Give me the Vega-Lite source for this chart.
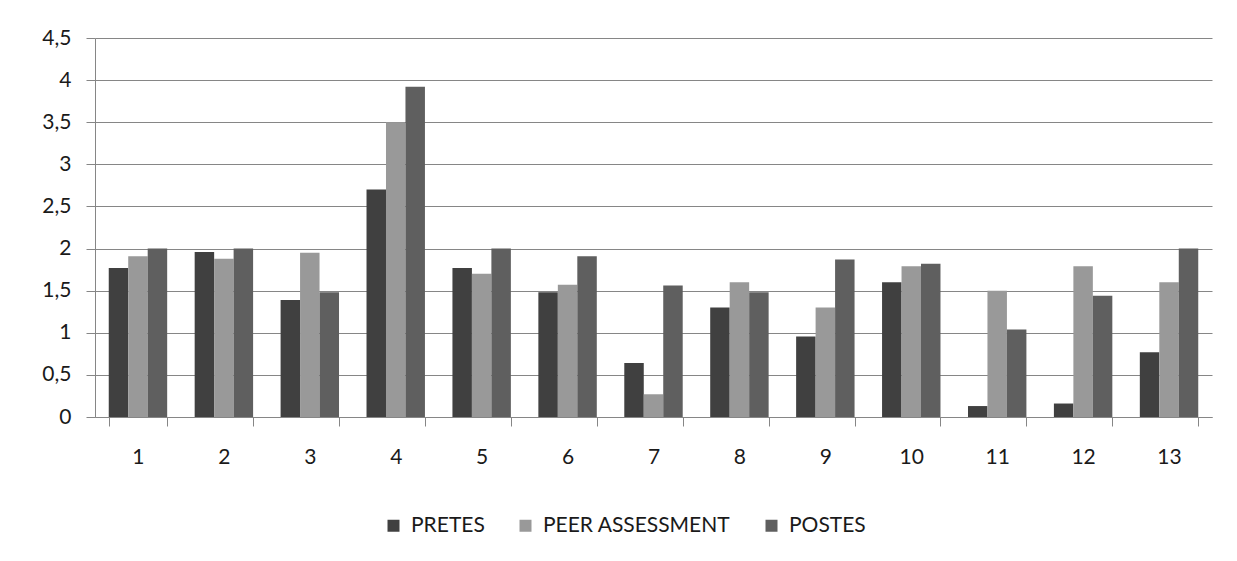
{
  "$schema": "https://vega.github.io/schema/vega-lite/v6.json",
  "autosize": {"type": "none"},
  "width": 1117,
  "height": 379,
  "padding": {"left": 95, "top": 38, "right": 25, "bottom": 144},
  "background": "white",
  "data": {"values": [
    {"item": 1, "series": "PRETES", "value": 1.77},
    {"item": 1, "series": "PEER ASSESSMENT", "value": 1.91},
    {"item": 1, "series": "POSTES", "value": 2.0},
    {"item": 2, "series": "PRETES", "value": 1.96},
    {"item": 2, "series": "PEER ASSESSMENT", "value": 1.88},
    {"item": 2, "series": "POSTES", "value": 2.0},
    {"item": 3, "series": "PRETES", "value": 1.39},
    {"item": 3, "series": "PEER ASSESSMENT", "value": 1.95},
    {"item": 3, "series": "POSTES", "value": 1.48},
    {"item": 4, "series": "PRETES", "value": 2.7},
    {"item": 4, "series": "PEER ASSESSMENT", "value": 3.5},
    {"item": 4, "series": "POSTES", "value": 3.92},
    {"item": 5, "series": "PRETES", "value": 1.77},
    {"item": 5, "series": "PEER ASSESSMENT", "value": 1.7},
    {"item": 5, "series": "POSTES", "value": 2.0},
    {"item": 6, "series": "PRETES", "value": 1.48},
    {"item": 6, "series": "PEER ASSESSMENT", "value": 1.57},
    {"item": 6, "series": "POSTES", "value": 1.91},
    {"item": 7, "series": "PRETES", "value": 0.64},
    {"item": 7, "series": "PEER ASSESSMENT", "value": 0.27},
    {"item": 7, "series": "POSTES", "value": 1.56},
    {"item": 8, "series": "PRETES", "value": 1.3},
    {"item": 8, "series": "PEER ASSESSMENT", "value": 1.6},
    {"item": 8, "series": "POSTES", "value": 1.48},
    {"item": 9, "series": "PRETES", "value": 0.955},
    {"item": 9, "series": "PEER ASSESSMENT", "value": 1.3},
    {"item": 9, "series": "POSTES", "value": 1.87},
    {"item": 10, "series": "PRETES", "value": 1.6},
    {"item": 10, "series": "PEER ASSESSMENT", "value": 1.79},
    {"item": 10, "series": "POSTES", "value": 1.82},
    {"item": 11, "series": "PRETES", "value": 0.13},
    {"item": 11, "series": "PEER ASSESSMENT", "value": 1.5},
    {"item": 11, "series": "POSTES", "value": 1.04},
    {"item": 12, "series": "PRETES", "value": 0.16},
    {"item": 12, "series": "PEER ASSESSMENT", "value": 1.79},
    {"item": 12, "series": "POSTES", "value": 1.44},
    {"item": 13, "series": "PRETES", "value": 0.77},
    {"item": 13, "series": "PEER ASSESSMENT", "value": 1.6},
    {"item": 13, "series": "POSTES", "value": 2.0}
  ]},
  "mark": {"type": "bar"},
  "encoding": {
    "x": {
      "field": "item", "type": "ordinal", "title": null,
      "scale": {"paddingInner": 0.32, "paddingOuter": 0.16},
      "axis": {
        "labelAngle": 0, "tickBand": "extent", "tickSize": 9, "tickColor": "#868686",
        "domainColor": "#868686", "labelPadding": 20, "labelFontSize": 21,
        "labelFont": "Lato", "labelColor": "#1a1a1a", "grid": false
      }
    },
    "xOffset": {"field": "series", "type": "nominal", "sort": ["PRETES", "PEER ASSESSMENT", "POSTES"]},
    "y": {
      "field": "value", "type": "quantitative", "title": null,
      "scale": {"domain": [0, 4.5], "nice": false},
      "axis": {
        "values": [0, 0.5, 1, 1.5, 2, 2.5, 3, 3.5, 4, 4.5],
        "labelExpr": "replace(datum.value + '', '.', ',')",
        "tickSize": 9, "tickColor": "#868686", "domain": true, "domainColor": "#868686",
        "gridColor": "#868686", "gridWidth": 1, "gridOpacity": 1,
        "labelPadding": 15, "labelFontSize": 21, "labelFont": "Lato", "labelColor": "#1a1a1a"
      }
    },
    "color": {
      "field": "series", "type": "nominal",
      "sort": ["PRETES", "PEER ASSESSMENT", "POSTES"],
      "scale": {"domain": ["PRETES", "PEER ASSESSMENT", "POSTES"], "range": ["#404040", "#999999", "#5f5f5f"]},
      "legend": {
        "title": null, "orient": "none", "direction": "horizontal",
        "legendX": 288, "legendY": 477,
        "symbolType": "square", "symbolSize": 144, "symbolStrokeWidth": 0,
        "labelFontSize": 21, "labelFont": "Lato", "labelColor": "#1a1a1a", "labelLimit": 400,
        "columnPadding": 30, "labelOffset": 7
      }
    }
  },
  "config": {"view": {"stroke": null}}
}
